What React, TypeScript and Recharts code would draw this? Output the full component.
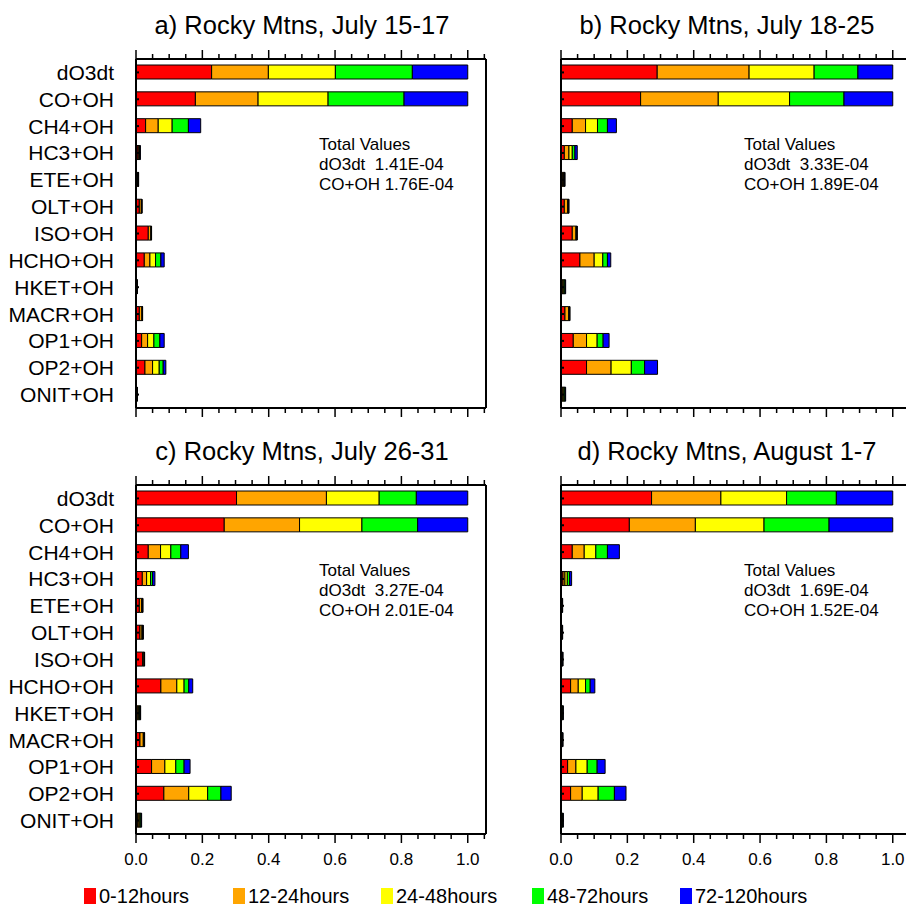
import { BarChart, Bar, XAxis, YAxis } from "recharts"

const categories = [
  "dO3dt", "CO+OH", "CH4+OH", "HC3+OH", "ETE+OH", "OLT+OH", "ISO+OH",
  "HCHO+OH", "HKET+OH", "MACR+OH", "OP1+OH", "OP2+OH", "ONIT+OH",
]
const seriesNames = ["0-12hours", "12-24hours", "24-48hours", "48-72hours", "72-120hours"]
const seriesColors = ["#ff0000", "#ffa500", "#ffff00", "#00ff00", "#0000ff"]
const xTicks = [0, 0.05, 0.1, 0.15, 0.2, 0.25, 0.3, 0.35, 0.4, 0.45, 0.5, 0.55, 0.6, 0.65, 0.7, 0.75, 0.8, 0.85, 0.9, 0.95, 1.0, 1.05]

// a) July 15-17
const a_0_12 = [0.228, 0.179, 0.029, 0.006, 0.005, 0.010, 0.037, 0.025, 0.002, 0.010, 0.017, 0.027, 0.002]
const a_12_24 = [0.171, 0.189, 0.038, 0.003, 0.001, 0.006, 0.008, 0.017, 0.001, 0.008, 0.018, 0.023, 0.001]
const a_24_48 = [0.202, 0.211, 0.042, 0.002, 0.001, 0.001, 0.001, 0.017, 0.0005, 0.001, 0.019, 0.020, 0.0005]
const a_48_72 = [0.232, 0.229, 0.049, 0.001, 0.0005, 0.0005, 0.0005, 0.016, 0.0003, 0.0005, 0.018, 0.012, 0.0003]
const a_72_120 = [0.167, 0.192, 0.037, 0.001, 0.0005, 0.0005, 0.0005, 0.010, 0.0002, 0.0005, 0.013, 0.008, 0.0002]

// b) July 18-25
const b_0_12 = [0.290, 0.240, 0.034, 0.010, 0.005, 0.010, 0.034, 0.057, 0.003, 0.012, 0.037, 0.077, 0.003]
const b_12_24 = [0.277, 0.234, 0.040, 0.014, 0.003, 0.010, 0.011, 0.043, 0.003, 0.011, 0.040, 0.074, 0.003]
const b_24_48 = [0.196, 0.215, 0.036, 0.010, 0.002, 0.002, 0.002, 0.026, 0.003, 0.002, 0.032, 0.061, 0.003]
const b_48_72 = [0.132, 0.164, 0.030, 0.008, 0.001, 0.001, 0.001, 0.014, 0.003, 0.001, 0.018, 0.040, 0.003]
const b_72_120 = [0.105, 0.147, 0.027, 0.007, 0.001, 0.001, 0.001, 0.010, 0.002, 0.001, 0.018, 0.039, 0.002]

// c) July 26-31
const c_0_12 = [0.303, 0.266, 0.037, 0.019, 0.010, 0.012, 0.020, 0.075, 0.004, 0.012, 0.047, 0.084, 0.005]
const c_12_24 = [0.271, 0.227, 0.037, 0.013, 0.007, 0.006, 0.004, 0.048, 0.004, 0.010, 0.040, 0.075, 0.004]
const c_24_48 = [0.159, 0.188, 0.031, 0.012, 0.002, 0.002, 0.001, 0.022, 0.003, 0.002, 0.033, 0.057, 0.003]
const c_48_72 = [0.112, 0.168, 0.030, 0.006, 0.001, 0.001, 0.0005, 0.014, 0.002, 0.001, 0.025, 0.040, 0.003]
const c_72_120 = [0.155, 0.151, 0.023, 0.007, 0.001, 0.001, 0.0005, 0.012, 0.001, 0.001, 0.018, 0.031, 0.002]

// d) August 1-7
const d_0_12 = [0.273, 0.206, 0.034, 0.006, 0.001, 0.001, 0.002, 0.029, 0.001, 0.002, 0.020, 0.029, 0.001]
const d_12_24 = [0.209, 0.199, 0.036, 0.006, 0.001, 0.001, 0.001, 0.023, 0.001, 0.001, 0.025, 0.035, 0.001]
const d_24_48 = [0.198, 0.207, 0.035, 0.007, 0.001, 0.001, 0.001, 0.022, 0.002, 0.001, 0.034, 0.048, 0.002]
const d_48_72 = [0.150, 0.196, 0.035, 0.007, 0.001, 0.001, 0.001, 0.014, 0.002, 0.001, 0.030, 0.049, 0.002]
const d_72_120 = [0.170, 0.192, 0.036, 0.006, 0.001, 0.001, 0.001, 0.014, 0.001, 0.001, 0.024, 0.035, 0.001]

const FONT = "'Liberation Sans', Arial, Helvetica, sans-serif"
const NARROW = "'Liberation Sans Narrow', 'Liberation Sans', Arial, sans-serif"

const CHART_W = 500
const CHART_H = 450
const X_MAX = 1.055

function buildData(series: number[][]) {
  return categories.map((name, i) => {
    const row: Record<string, number | string> = { name }
    series.forEach((s, k) => {
      row["s" + k] = s[i]
    })
    return row
  })
}

function XTick(props: any) {
  const { x, y, payload, up, showLabel } = props
  const v = payload.value as number
  const major = Math.abs(v * 5 - Math.round(v * 5)) < 1e-6
  const len = major ? 9 : 5
  const y2 = up ? y - len : y + len
  return (
    <g>
      <line x1={x} x2={x} y1={y} y2={y2} stroke="#000" strokeWidth={1.5} />
      {showLabel && major && (
        <text x={x} y={y + 25} textAnchor="middle" dominantBaseline="central" fontSize={17} fontFamily={NARROW} fill="#000">
          {v.toFixed(1)}
        </text>
      )}
    </g>
  )
}

function YTick(props: any) {
  const { x, y, payload, showLabel } = props
  return (
    <g>
      <line x1={x} x2={x + 3} y1={y} y2={y} stroke="#000" strokeWidth={2} />
      {showLabel && (
        <text x={x - 22} y={y} textAnchor="end" dominantBaseline="central" fontSize={21} fontFamily={FONT} fill="#000">
          {payload.value}
        </text>
      )}
    </g>
  )
}

interface PanelProps {
  title: string
  series: number[][]
  left: number
  top: number
  showXLabels: boolean
  showYLabels: boolean
  totals: [string, string]
}

function Panel({ title, series, left, top, showXLabels, showYLabels, totals }: PanelProps) {
  const data = buildData(series)
  return (
    <div style={{ position: "absolute", left, top, width: CHART_W, height: CHART_H }}>
      <div
        style={{
          position: "absolute", left: 136 + 166 - 160, top: 10, width: 320, textAlign: "center",
          fontSize: 25.5, fontFamily: FONT, lineHeight: "30px", whiteSpace: "nowrap",
        }}
      >
        {title}
      </div>
      <div
        style={{
          position: "absolute", left: 319, top: 135, fontSize: 17, fontFamily: FONT,
          lineHeight: "20px", whiteSpace: "pre",
        }}
      >
        {"Total Values\ndO3dt  " + totals[0] + "\nCO+OH " + totals[1]}
      </div>
      <BarChart
        width={CHART_W}
        height={CHART_H}
        data={data}
        layout="vertical"
        margin={{ top: 58, right: CHART_W - 486 - 1, bottom: CHART_H - 408 - 1, left: 0 }}
        barSize={14}
      >
        <XAxis
          xAxisId="bottom"
          orientation="bottom"
          type="number"
          domain={[0, X_MAX]}
          allowDataOverflow
          ticks={xTicks}
          interval={0}
          height={1}
          tickSize={0}
          tickMargin={0}
          tickLine={false}
          axisLine={{ stroke: "#000", strokeWidth: 2 }}
          tick={(p: any) => <XTick {...p} up={false} showLabel={showXLabels} />}
        />
        <XAxis
          xAxisId="top"
          orientation="top"
          type="number"
          domain={[0, X_MAX]}
          allowDataOverflow
          ticks={xTicks}
          interval={0}
          height={1}
          tickSize={0}
          tickMargin={0}
          tickLine={false}
          axisLine={{ stroke: "#000", strokeWidth: 2 }}
          tick={(p: any) => <XTick {...p} up={true} showLabel={false} />}
        />
        <YAxis
          type="category"
          dataKey="name"
          width={136}
          interval={0}
          tickSize={0}
          tickMargin={0}
          tickLine={false}
          axisLine={{ stroke: "#000", strokeWidth: 2 }}
          tick={(p: any) => <YTick {...p} showLabel={showYLabels} />}
        />
        <YAxis
          yAxisId="right"
          orientation="right"
          type="category"
          dataKey="name"
          width={1}
          tick={false}
          tickLine={false}
          axisLine={{ stroke: "#000", strokeWidth: 2 }}
        />
        {seriesNames.map((n, k) => (
          <Bar
            key={n}
            name={n}
            dataKey={"s" + k}
            xAxisId="bottom"
            stackId="t"
            fill={seriesColors[k]}
            stroke="#000"
            strokeWidth={1}
            isAnimationActive={false}
          />
        ))}
      </BarChart>
    </div>
  )
}

const legendLefts = [84, 233, 381, 532, 680]

export default function App() {
  return (
    <div style={{ position: "absolute", left: 0, top: 0, width: 906, height: 905, overflow: "hidden", background: "#fff" }}>
      <Panel
        title="a) Rocky Mtns, July 15-17"
        series={[a_0_12, a_12_24, a_24_48, a_48_72, a_72_120]}
        left={0}
        top={0}
        showXLabels={false}
        showYLabels={true}
        totals={["1.41E-04", "1.76E-04"]}
      />
      <Panel
        title="b) Rocky Mtns, July 18-25"
        series={[b_0_12, b_12_24, b_24_48, b_48_72, b_72_120]}
        left={425}
        top={0}
        showXLabels={false}
        showYLabels={false}
        totals={["3.33E-04", "1.89E-04"]}
      />
      <Panel
        title="c) Rocky Mtns, July 26-31"
        series={[c_0_12, c_12_24, c_24_48, c_48_72, c_72_120]}
        left={0}
        top={426}
        showXLabels={true}
        showYLabels={true}
        totals={["3.27E-04", "2.01E-04"]}
      />
      <Panel
        title="d) Rocky Mtns, August 1-7"
        series={[d_0_12, d_12_24, d_24_48, d_48_72, d_72_120]}
        left={425}
        top={426}
        showXLabels={true}
        showYLabels={false}
        totals={["1.69E-04", "1.52E-04"]}
      />
      {seriesNames.map((n, k) => (
        <div
          key={n}
          style={{
            position: "absolute", left: legendLefts[k], top: 885, height: 22, display: "flex",
            alignItems: "center", fontSize: 20, fontFamily: NARROW, whiteSpace: "nowrap",
          }}
        >
          <span style={{ display: "inline-block", width: 12, height: 16, background: seriesColors[k], marginRight: 3 }} />
          {n}
        </div>
      ))}
    </div>
  )
}
